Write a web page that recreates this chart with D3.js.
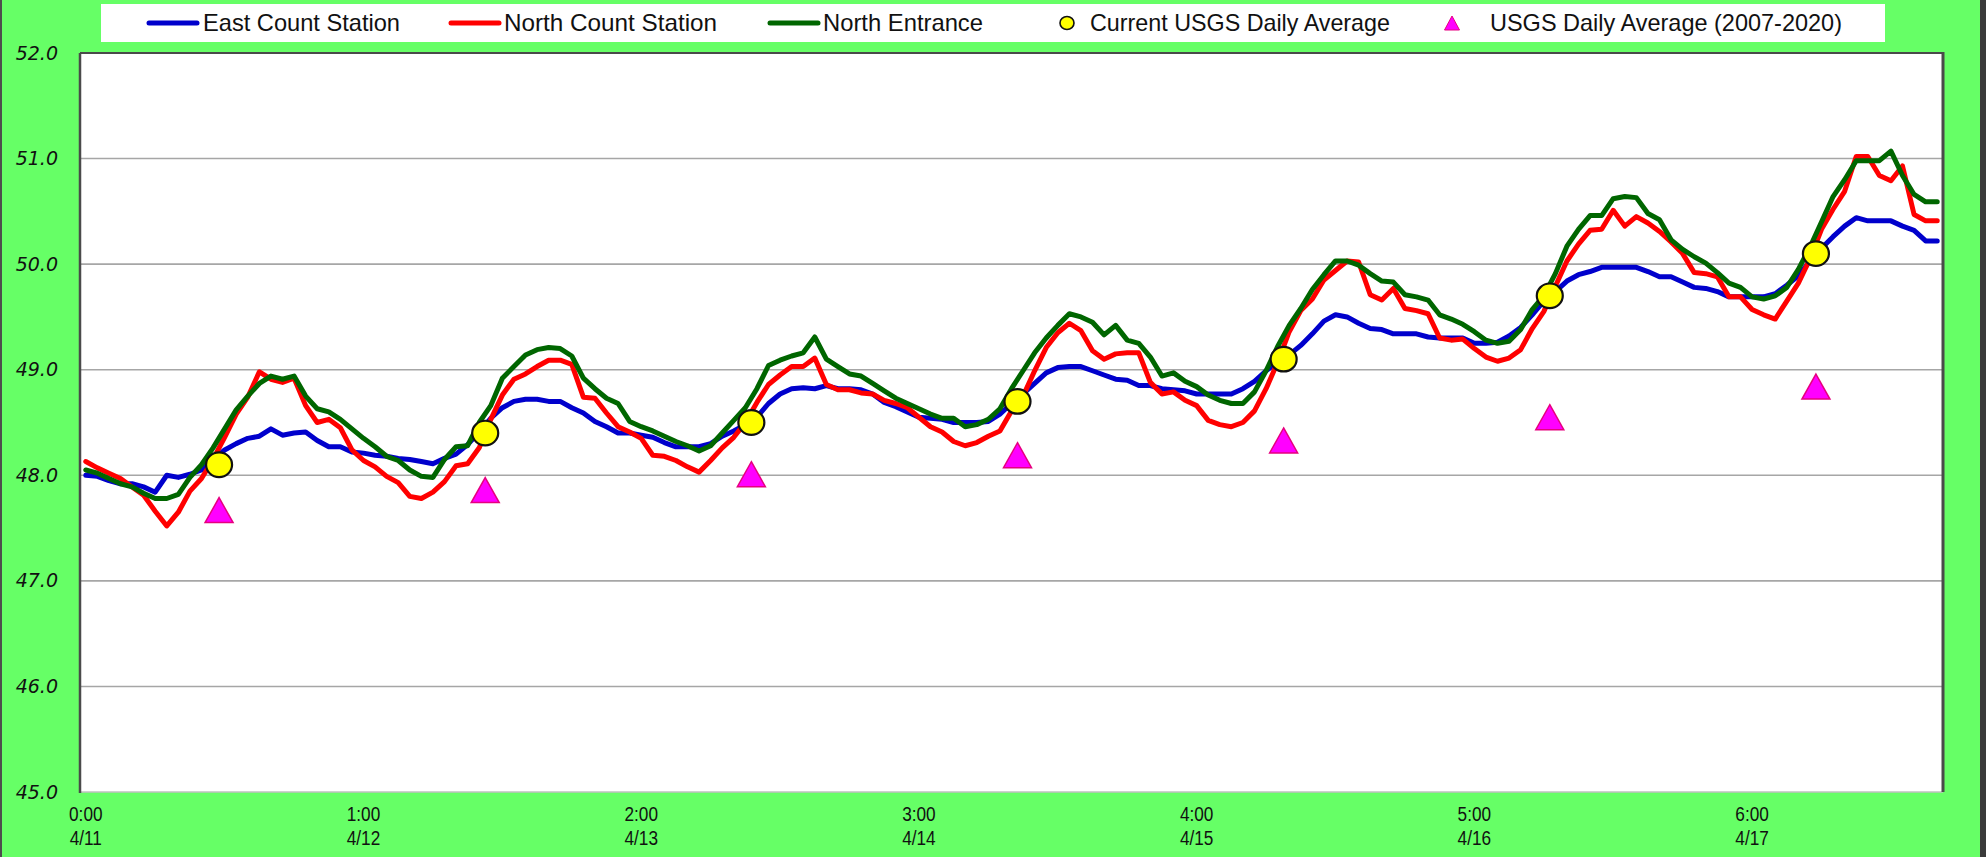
<!DOCTYPE html>
<html><head><meta charset="utf-8">
<script src="https://cdn.jsdelivr.net/npm/d3@7"></script>
<style>html,body{margin:0;padding:0;background:#66ff66;}svg{display:block;}</style>
</head><body><svg id="chart" width="1986" height="857"></svg>
<script>
// ---------- DATA ----------
const dayHourLabels = ["0:00","1:00","2:00","3:00","4:00","5:00","6:00"];
const dayDateLabels = ["4/11","4/12","4/13","4/14","4/15","4/16","4/17"];
const yTicks = [45,46,47,48,49,50,51,52];
const seriesNames = ["East Count Station","North Count Station","North Entrance","Current USGS Daily Average","USGS Daily Average (2007-2020)"];

const eastCount = [
48.00,47.99,47.95,47.92,47.92,47.89,47.84,48.00,47.98,48.01,
48.05,48.15,48.24,48.30,48.35,48.37,48.44,48.38,48.40,48.41,
48.33,48.27,48.27,48.22,48.21,48.19,48.18,48.16,48.15,48.13,
48.11,48.16,48.20,48.29,48.41,48.54,48.64,48.70,48.72,48.72,
48.70,48.70,48.64,48.59,48.51,48.46,48.40,48.40,48.38,48.36,
48.31,48.27,48.27,48.27,48.30,48.37,48.42,48.48,48.55,48.68,
48.77,48.82,48.83,48.82,48.85,48.82,48.82,48.81,48.77,48.69,
48.65,48.60,48.55,48.54,48.53,48.50,48.50,48.50,48.51,48.58,
48.68,48.77,48.87,48.97,49.02,49.03,49.03,48.99,48.95,48.91,
48.90,48.85,48.85,48.82,48.81,48.80,48.77,48.77,48.77,48.77,
48.82,48.89,48.99,49.07,49.14,49.23,49.34,49.46,49.52,49.50,
49.44,49.39,49.38,49.34,49.34,49.34,49.31,49.30,49.30,49.30,
49.25,49.25,49.26,49.32,49.40,49.52,49.65,49.74,49.84,49.90,
49.93,49.97,49.97,49.97,49.97,49.93,49.88,49.88,49.83,49.78,
49.77,49.74,49.69,49.69,49.69,49.69,49.72,49.80,49.89,50.03,
50.15,50.26,50.36,50.44,50.41,50.41,50.41,50.36,50.32,50.22,50.22];

const northCount = [
48.13,48.07,48.02,47.97,47.89,47.81,47.66,47.52,47.65,47.85,
47.97,48.15,48.36,48.58,48.74,48.98,48.91,48.88,48.92,48.66,
48.50,48.53,48.45,48.24,48.14,48.08,47.99,47.93,47.80,47.78,
47.84,47.94,48.09,48.11,48.26,48.53,48.76,48.91,48.96,49.03,
49.09,49.09,49.05,48.74,48.73,48.59,48.46,48.41,48.35,48.19,
48.18,48.14,48.08,48.03,48.14,48.26,48.36,48.50,48.69,48.86,
48.95,49.03,49.03,49.11,48.86,48.81,48.81,48.78,48.77,48.71,
48.68,48.64,48.55,48.46,48.41,48.32,48.28,48.31,48.37,48.42,
48.61,48.75,48.99,49.21,49.35,49.44,49.37,49.18,49.10,49.15,
49.16,49.16,48.88,48.77,48.79,48.71,48.66,48.52,48.48,48.46,
48.50,48.61,48.82,49.07,49.36,49.56,49.67,49.85,49.94,50.03,
50.02,49.71,49.66,49.77,49.58,49.56,49.53,49.30,49.28,49.29,
49.20,49.12,49.08,49.11,49.19,49.39,49.55,49.79,50.03,50.19,
50.32,50.33,50.51,50.36,50.45,50.39,50.31,50.21,50.10,49.92,
49.91,49.88,49.69,49.69,49.57,49.52,49.48,49.65,49.82,50.05,
50.33,50.52,50.69,51.02,51.02,50.84,50.79,50.93,50.47,50.41,50.41];

const northEntrance = [
48.05,48.02,47.97,47.92,47.89,47.83,47.78,47.78,47.82,47.98,
48.10,48.26,48.44,48.62,48.75,48.87,48.94,48.91,48.94,48.75,
48.63,48.60,48.53,48.44,48.35,48.27,48.18,48.14,48.05,47.99,
47.98,48.15,48.27,48.28,48.50,48.66,48.92,49.03,49.14,49.19,
49.21,49.20,49.13,48.92,48.82,48.73,48.68,48.51,48.46,48.42,
48.37,48.32,48.28,48.23,48.28,48.40,48.52,48.64,48.82,49.04,
49.09,49.13,49.16,49.31,49.10,49.03,48.96,48.94,48.87,48.80,
48.73,48.68,48.63,48.58,48.54,48.54,48.46,48.48,48.53,48.63,
48.82,48.99,49.16,49.30,49.42,49.53,49.50,49.45,49.33,49.42,
49.28,49.25,49.12,48.94,48.97,48.89,48.84,48.76,48.71,48.68,
48.68,48.79,48.99,49.22,49.42,49.58,49.76,49.90,50.03,50.03,
49.99,49.91,49.84,49.83,49.71,49.69,49.66,49.52,49.48,49.43,
49.36,49.28,49.25,49.27,49.38,49.57,49.70,49.91,50.17,50.33,
50.46,50.46,50.62,50.64,50.63,50.48,50.42,50.23,50.14,50.07,
50.01,49.92,49.82,49.78,49.69,49.67,49.70,49.78,49.95,50.16,
50.40,50.64,50.80,50.98,50.98,50.98,51.07,50.84,50.66,50.59,50.59];

const usgsCurrent  = [48.10, 48.40, 48.50, 48.70, 49.10, 49.70, 50.10];
const usgsHistoric = [47.67, 47.86, 48.01, 48.19, 48.33, 48.55, 48.84];

// ---------- LAYOUT ----------
const W = 1986, H = 857;
const P = {left: 80, right: 1943, top: 53, bottom: 792};
const C = {blue: "#0000cc", red: "#ff0000", green: "#006600", bg: "#66ff66",
           yellow: "#ffff00", magenta: "#ff00ff", grid: "#a6a6a6", frame: "#4a4a4a"};

const svg = d3.select("#chart");
svg.append("rect").attr("width", W).attr("height", H).attr("fill", C.bg);
svg.append("line").attr("x1", 1).attr("x2", 1).attr("y1", 0).attr("y2", H)
   .attr("stroke", "#4d4d4d").attr("stroke-width", 2);
svg.append("rect").attr("x", 1980).attr("y", 0).attr("width", 6).attr("height", H).attr("fill", "#3a3a3a");

// legend box
svg.append("rect").attr("x", 101).attr("y", 4).attr("width", 1784).attr("height", 38).attr("fill", "#fff");

// plot area
svg.append("rect").attr("x", P.left).attr("y", P.top)
   .attr("width", P.right - P.left).attr("height", P.bottom - P.top).attr("fill", "#fff");

const hours = d3.range(eastCount.length);
const x = d3.scaleBand().domain(hours).range([P.left, P.right]);
const xc = i => x(i) + x.bandwidth() / 2;
const days = d3.range(usgsCurrent.length);
const xd = d3.scaleBand().domain(days).range([P.left + 6, P.right + 6]);
const xdc = d => xd(d) + xd.bandwidth() / 2;
const y = d3.scaleLinear().domain([45, 52]).range([P.bottom, P.top]);

// gridlines
svg.append("g").selectAll("line").data(yTicks.filter(t => t < 52)).join("line")
  .attr("x1", P.left).attr("x2", P.right)
  .attr("y1", d => y(d)).attr("y2", d => y(d))
  .attr("stroke", d => d === 45 ? "#c0c0c0" : C.grid).attr("stroke-width", 1.6);

// y axis labels
const yAxis = d3.axisLeft(y).tickValues(yTicks).tickFormat(d3.format(".1f")).tickSize(0).tickPadding(22);
const gy = svg.append("g").attr("transform", `translate(${P.left},0)`).call(yAxis);
gy.select(".domain").remove();
gy.selectAll("text").attr("font-family", "DejaVu Sans").attr("font-style", "italic")
  .attr("font-size", 19).attr("fill", "#111");

// x axis labels
const labelIdx = hours.filter(i => i % 24 === 0);
const xAxis = d3.axisBottom(x).tickValues(labelIdx).tickSize(0).tickFormat("");
const gx = svg.append("g").attr("transform", `translate(0,${P.bottom})`).call(xAxis);
gx.select(".domain").remove();
gx.selectAll(".tick").each(function(d) {
  const k = d / 24;
  const t = d3.select(this).append("text").attr("text-anchor", "middle")
    .attr("transform", "scale(0.84,1)")
    .attr("font-family", "Liberation Sans, Arial, sans-serif").attr("font-size", 20.5).attr("fill", "#111");
  t.append("tspan").attr("x", 0).attr("y", 29).text(dayHourLabels[k]);
  t.append("tspan").attr("x", 0).attr("y", 53).text(dayDateLabels[k]);
});

// lines
const line = d3.line().x((d, i) => xc(i)).y(d => y(d));
[[eastCount, C.blue], [northCount, C.red], [northEntrance, C.green]].forEach(([data, col]) => {
  svg.append("path").datum(data).attr("d", line).attr("fill", "none")
    .attr("stroke", col).attr("stroke-width", 5)
    .attr("stroke-linejoin", "round").attr("stroke-linecap", "round");
});

// markers
const tri = (cx, cy, w, h) => `M${cx},${cy - h / 2}L${cx + w / 2},${cy + h / 2}L${cx - w / 2},${cy + h / 2}Z`;
svg.append("g").selectAll("path").data(usgsHistoric).join("path")
  .attr("d", (d, i) => tri(xdc(i), y(d), 28, 25))
  .attr("fill", C.magenta).attr("stroke", "#e6007e").attr("stroke-width", 1.5);
svg.append("g").selectAll("ellipse").data(usgsCurrent).join("ellipse")
  .attr("cx", (d, i) => xdc(i)).attr("cy", d => y(d)).attr("rx", 13).attr("ry", 12.3)
  .attr("fill", C.yellow).attr("stroke", "#111").attr("stroke-width", 2.2);

// plot frame
svg.append("line").attr("x1", P.left).attr("x2", P.right).attr("y1", P.top).attr("y2", P.top)
  .attr("stroke", C.frame).attr("stroke-width", 2);
svg.append("line").attr("x1", P.right).attr("x2", P.right).attr("y1", P.top - 1).attr("y2", P.bottom)
  .attr("stroke", C.frame).attr("stroke-width", 3);
svg.append("line").attr("x1", P.left).attr("x2", P.left).attr("y1", P.top).attr("y2", P.bottom + 1)
  .attr("stroke", C.frame).attr("stroke-width", 2.5);

// legend
const legendY = 23;
const leg = svg.append("g").attr("font-family", "Liberation Sans, Arial, sans-serif").attr("font-size", 24).attr("fill", "#111");
const legendSym = [149, 451, 770, 1067, 1452];
const legendTxt = [203, 504, 823, 1090, 1490];
const legendW = [197, 213, 160, 300, 352];
[C.blue, C.red, C.green].forEach((col, i) => {
  leg.append("line").attr("x1", legendSym[i]).attr("x2", legendSym[i] + 48)
    .attr("y1", legendY).attr("y2", legendY).attr("stroke", col).attr("stroke-width", 5).attr("stroke-linecap", "round");
});
leg.append("ellipse").attr("cx", legendSym[3]).attr("cy", legendY).attr("rx", 7).attr("ry", 6.5)
  .attr("fill", C.yellow).attr("stroke", "#111").attr("stroke-width", 1.6);
leg.append("path").attr("d", tri(legendSym[4], legendY, 15, 14)).attr("fill", C.magenta).attr("stroke", "#e6007e").attr("stroke-width", 1);
seriesNames.forEach((n, i) => {
  leg.append("text").attr("x", legendTxt[i]).attr("y", legendY).attr("dy", "0.35em")
    .attr("textLength", legendW[i]).attr("lengthAdjust", "spacingAndGlyphs").text(n);
});
</script></body></html>
